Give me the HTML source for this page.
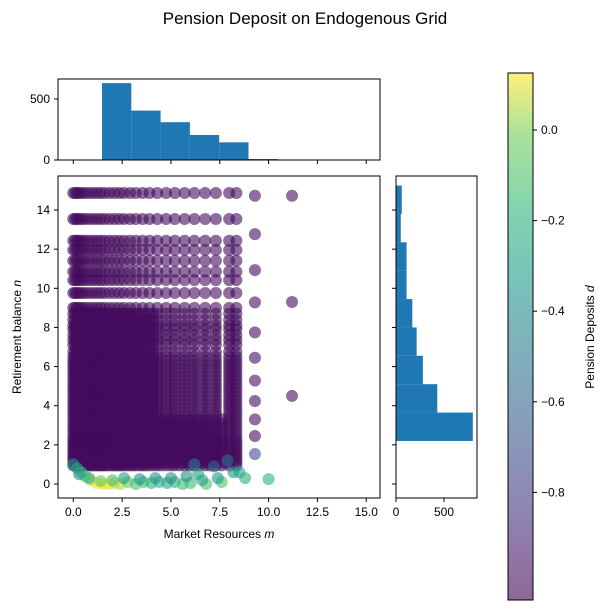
<!DOCTYPE html>
<html><head><meta charset="utf-8"><style>
body{margin:0;background:#fff;}
svg{display:block;font-family:"Liberation Sans","DejaVu Sans",sans-serif;}
</style></head><body>
<svg id="fig" width="610" height="611" viewBox="0 0 610 611">
<defs>
<linearGradient id="vir" x1="0" y1="1" x2="0" y2="0">
<stop offset="0" stop-color="#440154"/><stop offset="0.13" stop-color="#482878"/>
<stop offset="0.25" stop-color="#3e4989"/><stop offset="0.38" stop-color="#31688e"/>
<stop offset="0.5" stop-color="#26828e"/><stop offset="0.63" stop-color="#1f9e89"/>
<stop offset="0.75" stop-color="#35b779"/><stop offset="0.88" stop-color="#6ece58"/>
<stop offset="1" stop-color="#fde725"/>
</linearGradient>
<clipPath id="mainclip"><rect x="58" y="176" width="322" height="322"/></clipPath>
</defs>
<text x="305" y="24" font-size="17" text-anchor="middle">Pension Deposit on Endogenous Grid</text>
<g id="main" clip-path="url(#mainclip)"></g>
<rect x="58" y="176" width="322" height="322" fill="none" stroke="#000" stroke-width="1"/>
<g id="ticks"></g>
<text x="219" y="538" font-size="12" text-anchor="middle">Market Resources <tspan font-style="italic">m</tspan></text>
<text transform="translate(21,337) rotate(-90)" font-size="12" text-anchor="middle">Retirement balance <tspan font-style="italic">n</tspan></text>
<g id="tophist"></g>
<rect x="58" y="79" width="322" height="81" fill="none" stroke="#000"/>
<g id="righthist"></g>
<rect x="396" y="176" width="81" height="322" fill="none" stroke="#000"/>
<rect x="508" y="73" width="25" height="527" fill="url(#vir)" opacity="0.6"/>
<rect x="508" y="73" width="25" height="527" fill="none" stroke="#000"/>
<g id="cbticks"></g>
<text transform="translate(594,337) rotate(-90)" font-size="12" text-anchor="middle">Pension Deposits <tspan font-style="italic">d</tspan></text>
</svg>
<script>
const mColsDense=[0,0.1,0.2,0.3,0.4,0.5,0.6,0.7,0.8,0.9,1.0,1.1,1.2,1.3,1.4,1.5,1.6,1.7,1.85,2.0,2.1,2.25,2.35,2.5,2.6,2.75,2.9,3.05,3.2,3.4,3.55,3.7,3.9,4.1,4.3];
const mColsMid=[0,0.1,0.2,0.3,0.45,0.6,0.8,1.0,1.2,1.4,1.6,1.85,2.1,2.35,2.6,2.9,3.2,3.55,3.9,4.3];
const mColsRight=[4.75,5.2,5.7,6.2,6.75,7.3,7.98,8.35];
const mColsLowRight=[4.5,4.75,5.0,5.2,5.45,5.7,5.95,6.2,6.45,6.75,7.0,7.3,7.6,7.98,8.35];
const nRowsTop=[14.87,13.54,12.43,11.96,11.41,10.85,10.42,9.76,9.0];
const nRowsMid=[8.7,8.38,8.1,7.9,7.6,7.36,7.1,6.75,6.5,6.3,6.1,5.9,5.7,5.5,5.3,5.1,4.9,4.7,4.5,4.3,4.1,3.9,3.7,3.5];
const nRowsLow=[3.3,3.1,2.9,2.7,2.5,2.3,2.15,2.0,1.85,1.7,1.55,1.4,1.25,1.1,0.95];
const extraM=[9.3,9.3,9.3,9.3,9.3,9.3,9.3,9.3,9.3,9.3,9.3,11.2,11.2,11.2];
const extraN=[14.73,12.77,10.93,9.28,7.75,6.45,5.28,4.24,3.3,2.45,1.53,14.73,9.3,4.5];
const extraD=[-1,-1,-1,-1,-1,-1,-1,-1,-1,-1,-0.72,-1,-1,-1];
const lowM=[0,0.2,0.4,0.6,0.9,1.2,1.5,1.8,2.1,2.4,2.8,3.2,3.6,4.0,4.4,4.8,5.2,5.6,6.0,6.2,6.4,6.8,7.2,7.6,7.9,8.2,8.5,8.8,10.0,0.3,0.8,1.4,2.0,2.6,3.4,4.2,5.0,5.8,6.6,7.4];
const lowN=[1.0,0.8,0.6,0.4,0.2,0.05,0.0,0.0,0.05,0.0,0.1,0.0,0.1,0.05,0.1,0.05,0.1,0.0,0.05,1.0,0.5,0.0,0.9,0.1,1.2,0.6,0.6,0.3,0.25,0.5,0.3,0.15,0.2,0.3,0.25,0.3,0.3,0.4,0.2,0.3];
const lowD=[-0.35,-0.25,-0.15,-0.1,0.05,0.1,0.12,0.1,0.05,0.05,-0.05,-0.1,-0.15,-0.2,-0.2,-0.25,-0.2,-0.15,-0.15,-0.5,-0.3,-0.1,-0.6,-0.1,-0.55,-0.35,-0.3,-0.2,-0.2,-0.4,-0.25,-0.05,-0.1,-0.3,-0.35,-0.35,-0.4,-0.4,-0.3,-0.35];
const topEdges=[1.47,2.97,4.47,5.97,7.47,8.97,10.47];
const topCounts=[630,405,310,205,145,8];
const rightEdges=[2.2,3.65,5.1,6.55,8.0,9.45,10.9,12.35,13.8,15.25];
const rightCounts=[800,430,280,215,170,110,110,50,60];
const xTicks=[0,2.5,5,7.5,10,12.5,15];
const xTickLabels=["0.0","2.5","5.0","7.5","10.0","12.5","15.0"];
const yTicks=[0,2,4,6,8,10,12,14];
const cbTicks=[0,-0.2,-0.4,-0.6,-0.8];
const cbLabels=["0.0","\u22120.2","\u22120.4","\u22120.6","\u22120.8"];

const NS="http://www.w3.org/2000/svg";
const X=m=>73.3+m*19.53;
const Y=n=>484-n*19.57;
const HY=c=>160-c*61/500;
const HX=c=>396+c*48/500;
const CB=d=>130-d*453;
const vmin=-1.037,vmax=0.126;
const stops=[[68,1,84],[72,40,120],[62,73,137],[49,104,142],[38,130,142],[31,158,137],[53,183,121],[110,206,88],[253,231,37]];
function vir(d){let t=(d-vmin)/(vmax-vmin);t=Math.max(0,Math.min(1,t))*(stops.length-1);const i=Math.min(stops.length-2,Math.floor(t)),f=t-i;const a=stops[i],b=stops[i+1];return `rgb(${a.map((v,k)=>Math.round(v+(b[k]-v)*f)).join(',')})`;}
function el(tag,attrs,parent){const e=document.createElementNS(NS,tag);for(const k in attrs)e.setAttribute(k,attrs[k]);parent.appendChild(e);return e;}
const main=document.getElementById('main');
function dot(m,n,d){const c=el('circle',{cx:X(m),cy:Y(n),r:6,fill:vir(d),'fill-opacity':0.6},main);

}
nRowsTop.forEach(n=>mColsMid.concat(mColsRight).forEach(m=>dot(m,n,-1)));
nRowsMid.forEach(n=>mColsDense.concat(mColsRight).forEach(m=>dot(m,n,-1)));
nRowsLow.forEach(n=>mColsDense.concat(mColsLowRight).forEach(m=>dot(m,n,-1)));
extraM.forEach((m,i)=>dot(m,extraN[i],extraD[i]));
lowM.forEach((m,i)=>dot(m,lowN[i],lowD[i]));
const ticks=document.getElementById('ticks');
function txt(x,y,s,anchor,parent,name){const t=el('text',{x:x,y:y,'font-size':12,'text-anchor':anchor},parent);t.textContent=s;

return t;}
xTicks.forEach((v,i)=>{el('line',{x1:X(v),x2:X(v),y1:498,y2:502,stroke:'#000'},ticks);el('line',{x1:X(v),x2:X(v),y1:160,y2:164,stroke:'#000'},ticks);txt(X(v),516,xTickLabels[i],'middle',ticks,'x-tick-label');});
yTicks.forEach(v=>{el('line',{x1:54,x2:58,y1:Y(v),y2:Y(v),stroke:'#000'},ticks);el('line',{x1:392,x2:396,y1:Y(v),y2:Y(v),stroke:'#000'},ticks);txt(50,Y(v)+4,String(v),'end',ticks,'y-tick-label');});
[0,500].forEach(v=>{el('line',{x1:54,x2:58,y1:HY(v),y2:HY(v),stroke:'#000'},ticks);txt(50,HY(v)+4,String(v),'end',ticks,'top-hist-tick-label');
el('line',{x1:HX(v),x2:HX(v),y1:498,y2:502,stroke:'#000'},ticks);txt(HX(v),516,String(v),'middle',ticks,'right-hist-tick-label');});
const th=document.getElementById('tophist');
topCounts.forEach((c,i)=>{const r=el('rect',{x:X(topEdges[i]),y:HY(c),width:X(topEdges[i+1])-X(topEdges[i]),height:160-HY(c),fill:'#1f77b4'},th);

});
const rh=document.getElementById('righthist');
rightCounts.forEach((c,i)=>{const r=el('rect',{x:396,y:Y(rightEdges[i+1]),width:HX(c)-396,height:Y(rightEdges[i])-Y(rightEdges[i+1]),fill:'#1f77b4'},rh);

});
const cbt=document.getElementById('cbticks');
cbTicks.forEach((v,i)=>{el('line',{x1:533,x2:537,y1:CB(v),y2:CB(v),stroke:'#000'},cbt);txt(541,CB(v)+4,cbLabels[i],'start',cbt,'colorbar-tick-label');});
</script>
</body></html>
